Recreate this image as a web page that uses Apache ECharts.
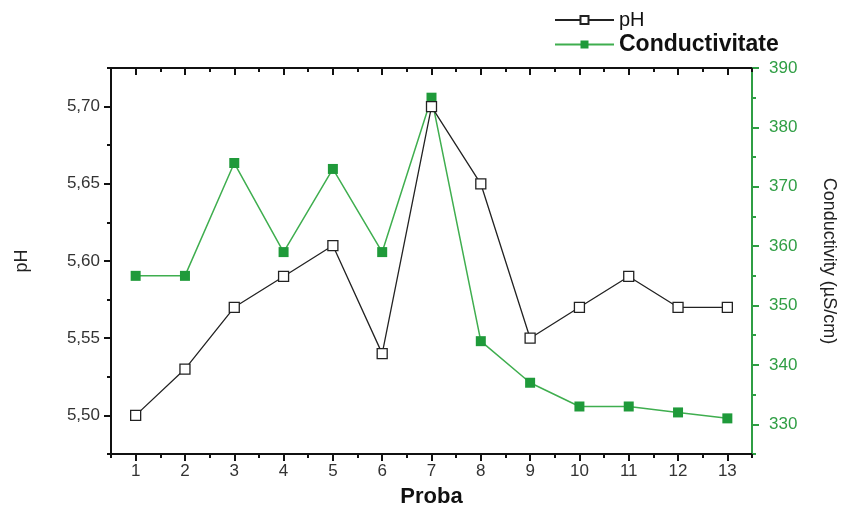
<!DOCTYPE html>
<html>
<head>
<meta charset="utf-8">
<script src="https://cdn.jsdelivr.net/npm/echarts@6/dist/echarts.min.js"></script>
<style>
  html, body { margin: 0; padding: 0; background: #fff; }
  #chart { width: 847px; height: 513px; }
</style>
</head>
<body>
<div id="chart"></div>
<script>
  // date
  const probe = [1, 2, 3, 4, 5, 6, 7, 8, 9, 10, 11, 12, 13];
  const phValues = [5.50, 5.53, 5.57, 5.59, 5.61, 5.54, 5.70, 5.65, 5.55, 5.57, 5.59, 5.57, 5.57];
  const condValues = [355, 355, 374, 359, 373, 359, 385, 344, 337, 333, 333, 332, 331];
  const phTicks = [5.50, 5.55, 5.60, 5.65, 5.70];
  const phMinor = [5.475, 5.525, 5.575, 5.625, 5.675, 5.725];
  const condTicks = [330, 340, 350, 360, 370, 380, 390];
  const condMinor = [325, 335, 345, 355, 365, 375, 385];
  const xMinor = [0.5, 1.5, 2.5, 3.5, 4.5, 5.5, 6.5, 7.5, 8.5, 9.5, 10.5, 11.5, 12.5, 13.5];

  const green = '#2f9e44';
  const font = 'Liberation Sans';

  const chart = echarts.init(document.getElementById('chart'));

  const blackLine = { show: true, lineStyle: { color: '#111', width: 2 } };
  const greenLine = { show: true, lineStyle: { color: green, width: 2 } };

  const option = {
    animation: false,
    grid: { left: 111, right: 95, top: 68, bottom: 59 },
    legend: {
      orient: 'vertical',
      left: 549,
      top: 5,
      itemWidth: 59,
      itemHeight: 10,
      itemGap: 3,
      data: [
        { name: 'pH', textStyle: { fontSize: 20, color: '#111', fontFamily: font } },
        { name: 'Conductivitate', textStyle: { fontSize: 23, fontWeight: 'bold', color: '#111', fontFamily: font } }
      ]
    },
    xAxis: [
      {
        type: 'value', min: 0.5, max: 13.5, position: 'bottom',
        name: 'Proba', nameLocation: 'middle', nameGap: 32,
        nameTextStyle: { fontSize: 22, fontWeight: 'bold', color: '#111', fontFamily: font },
        axisLine: blackLine,
        axisTick: { show: true, length: 7, customValues: probe, lineStyle: { color: '#111', width: 2 } },
        axisLabel: { customValues: probe, fontSize: 17, color: '#333', fontFamily: font, margin: 9 },
        splitLine: { show: false }
      },
      {
        type: 'value', min: 0.5, max: 13.5, position: 'bottom',
        axisLine: { show: false },
        axisTick: { show: true, length: 4, customValues: xMinor, lineStyle: { color: '#111', width: 2 } },
        axisLabel: { show: false },
        splitLine: { show: false }
      },
      {
        type: 'value', min: 0.5, max: 13.5, position: 'top',
        axisLine: blackLine,
        axisTick: { show: true, inside: true, length: 7, customValues: probe, lineStyle: { color: '#111', width: 2 } },
        axisLabel: { show: false },
        splitLine: { show: false }
      },
      {
        type: 'value', min: 0.5, max: 13.5, position: 'top',
        axisLine: { show: false },
        axisTick: { show: true, inside: true, length: 4, customValues: xMinor, lineStyle: { color: '#111', width: 2 } },
        axisLabel: { show: false },
        splitLine: { show: false }
      }
    ],
    yAxis: [
      {
        type: 'value', min: 5.475, max: 5.725, position: 'left',
        name: 'pH', nameLocation: 'middle', nameGap: 80, nameRotate: 90,
        nameTextStyle: { fontSize: 18, color: '#222', fontFamily: font },
        axisLine: blackLine,
        axisTick: { show: true, length: 7, customValues: phTicks, lineStyle: { color: '#111', width: 2 } },
        axisLabel: {
          customValues: phTicks, fontSize: 17, color: '#333', fontFamily: font, margin: 11,
          formatter: v => v.toFixed(2).replace('.', ',')
        },
        splitLine: { show: false }
      },
      {
        type: 'value', min: 325, max: 390, position: 'right',
        name: 'Conductivity (µS/cm)', nameLocation: 'middle', nameGap: 68, nameRotate: -90,
        nameTextStyle: { fontSize: 18, color: '#222', fontFamily: font },
        axisLine: greenLine,
        axisTick: { show: true, length: 7, customValues: condTicks, lineStyle: { color: green, width: 2 } },
        axisLabel: { customValues: condTicks, fontSize: 17, color: green, fontFamily: font, margin: 17 },
        splitLine: { show: false }
      },
      {
        type: 'value', min: 5.475, max: 5.725, position: 'left',
        axisLine: { show: false },
        axisTick: { show: true, length: 4, customValues: phMinor, lineStyle: { color: '#111', width: 2 } },
        axisLabel: { show: false },
        splitLine: { show: false }
      },
      {
        type: 'value', min: 325, max: 390, position: 'right',
        axisLine: { show: false },
        axisTick: { show: true, length: 4, customValues: condMinor, lineStyle: { color: green, width: 2 } },
        axisLabel: { show: false },
        splitLine: { show: false }
      }
    ],
    series: [
      {
        name: 'pH', type: 'line', xAxisIndex: 0, yAxisIndex: 0,
        data: probe.map((p, i) => [p, phValues[i]]),
        symbol: 'rect', symbolSize: 10,
        lineStyle: { color: '#222', width: 1.3 },
        itemStyle: { color: '#fff', borderColor: '#222', borderWidth: 1.3 },
        z: 3
      },
      {
        name: 'Conductivitate', type: 'line', xAxisIndex: 0, yAxisIndex: 1,
        data: probe.map((p, i) => [p, condValues[i]]),
        symbol: 'rect', symbolSize: 10,
        lineStyle: { color: '#3fae4f', width: 1.5 },
        itemStyle: { color: '#1f9a3a', borderColor: '#1f9a3a', borderWidth: 0 },
        z: 2
      }
    ]
  };

  chart.setOption(option);
</script>
</body>
</html>
